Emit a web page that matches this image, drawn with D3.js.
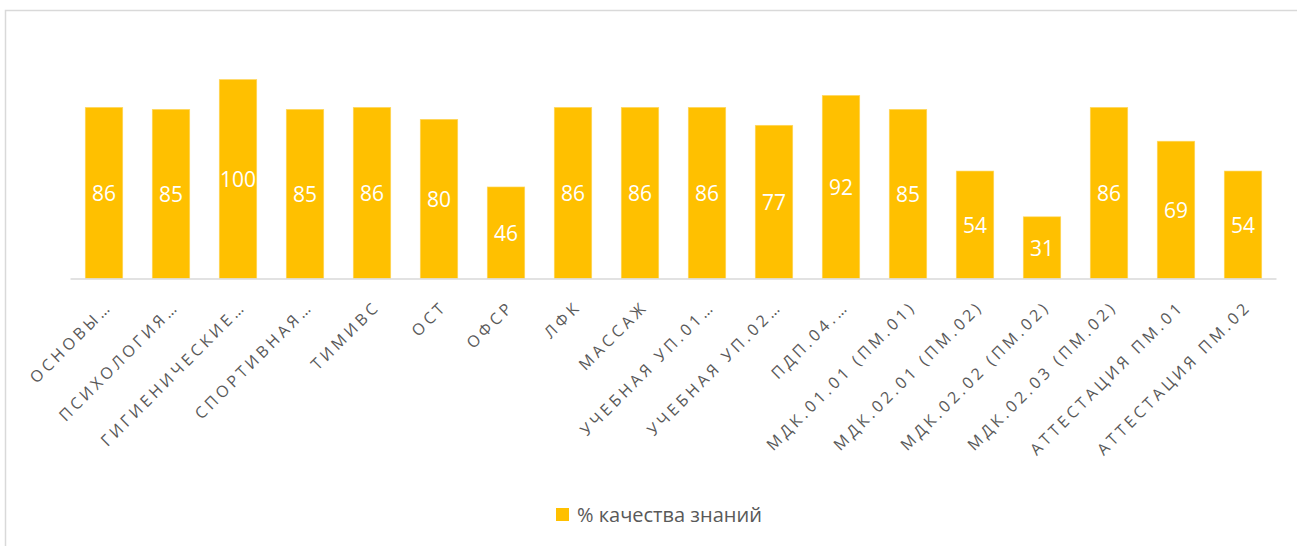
<!DOCTYPE html>
<html>
<head>
<meta charset="utf-8">
<script src="https://cdn.jsdelivr.net/npm/d3@7"></script>
<style>
  html, body { margin: 0; padding: 0; background: #fff; }
  text { font-family: "Open Sans", "Noto Sans", sans-serif; }
</style>
</head>
<body>
<div id="chart"></div>
<script>
// categories (as shown, truncated like the original)
const categories = [
  "ОСНОВЫ…", "ПСИХОЛОГИЯ…", "ГИГИЕНИЧЕСКИЕ…", "СПОРТИВНАЯ…", "ТИМИВС", "ОСТ",
  "ОФСР", "ЛФК", "МАССАЖ", "УЧЕБНАЯ УП.01…", "УЧЕБНАЯ УП.02…", "ПДП.04.…",
  "МДК.01.01 (ПМ.01)", "МДК.02.01 (ПМ.02)", "МДК.02.02 (ПМ.02)", "МДК.02.03 (ПМ.02)",
  "АТТЕСТАЦИЯ ПМ.01", "АТТЕСТАЦИЯ ПМ.02"
];
const quality = [86, 85, 100, 85, 86, 80, 46, 86, 86, 86, 77, 92, 85, 54, 31, 86, 69, 54];
const seriesName = "% качества знаний";

const width = 1297, height = 546;
const barColor = "#FFC000", textColor = "#595959", lineColor = "#d9d9d9";

const svg = d3.select("#chart").append("svg")
    .attr("width", width)
    .attr("height", height);

// chart border
svg.append("rect")
    .attr("x", 5.5).attr("y", 10.5)
    .attr("width", width + 10).attr("height", height + 10)
    .attr("fill", "none")
    .attr("stroke", lineColor)
    .attr("stroke-width", 1.5);

const x = d3.scaleBand()
    .domain(categories)
    .range([70.5, 1276.5])
    .paddingInner(0.44)
    .paddingOuter(0.22);

const y = d3.scaleLinear()
    .domain([0, 100])
    .range([278.5, 79.5]);

const data = categories.map((c, i) => ({ name: c, value: quality[i] }));

// bars
svg.append("g").selectAll("rect")
    .data(data)
    .join("rect")
    .attr("x", d => x(d.name))
    .attr("y", d => y(d.value))
    .attr("width", x.bandwidth())
    .attr("height", d => y(0) - y(d.value))
    .attr("fill", barColor)
    .attr("stroke", "#ffd966")
    .attr("stroke-width", 0.6);

// value labels in the middle of bars
svg.append("g").selectAll("text")
    .data(data)
    .join("text")
    .attr("x", d => x(d.name) + x.bandwidth() / 2)
    .attr("y", d => (y(d.value) + y(0)) / 2)
    .attr("dy", "0.38em")
    .attr("text-anchor", "middle")
    .attr("fill", "#fff")
    .style("font-size", "21px")
    .text(d => d.value);

// x axis
const xAxis = svg.append("g")
    .attr("transform", `translate(0,${y(0)})`)
    .call(d3.axisBottom(x).tickSize(0).tickPadding(0));
xAxis.select(".domain")
    .attr("stroke", lineColor)
    .attr("stroke-width", 1.5)
    .attr("d", "M70.5,0.5H1276.5");
xAxis.selectAll(".tick text")
    .attr("fill", textColor)
    .style("font-size", "16px")
    .style("letter-spacing", "3.6px")
    .attr("text-anchor", "end")
    .attr("dy", "0.72em")
    .attr("y", 0)
    .attr("transform", "translate(1,21) rotate(-45)");

// legend
const legend = svg.append("g").attr("transform", "translate(556,508)");
legend.append("rect")
    .attr("width", 13).attr("height", 13)
    .attr("fill", barColor);
legend.append("text")
    .attr("x", 21).attr("y", 13.5)
    .attr("fill", textColor)
    .style("font-size", "20px")
    .text(seriesName);
</script>
</body>
</html>
